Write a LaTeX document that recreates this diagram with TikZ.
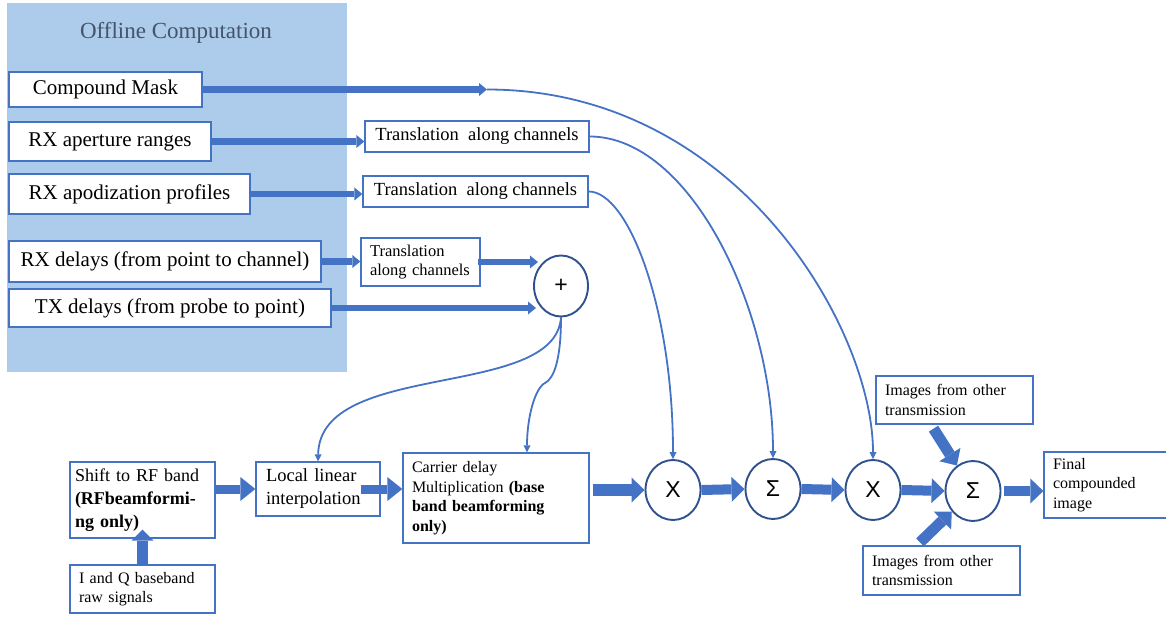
\documentclass[tikz,border=0pt]{standalone}
\usepackage{fontspec}
\setmainfont{Liberation Serif}
\newfontfamily\opfont{Liberation Sans}
\usetikzlibrary{arrows.meta,shapes.geometric}
\definecolor{panel}{HTML}{ADCBEA}
\definecolor{accent}{HTML}{4472C4}
\definecolor{ring}{HTML}{2F528F}
\definecolor{heading}{HTML}{44546A}
\begin{document}
\begin{tikzpicture}[x=1pt,y=-1pt,
  box/.style={draw=accent,line width=1.3pt,fill=white,inner sep=0pt,text=black},
  big/.style={font=\fontsize{21}{25}\selectfont},
  trans/.style={font=\fontsize{18.5}{22}\selectfont},
  mid/.style={font=\fontsize{18.5}{23}\selectfont},
  small/.style={font=\fontsize{16}{19.5}\selectfont},
  op/.style={ellipse,draw=ring,line width=1.9pt,fill=white,minimum width=55pt,
    minimum height=60pt,inner sep=0pt,font=\opfont\fontsize{23}{23}\selectfont},
  flow/.style={draw=accent,line width=1.8pt,-{Triangle[length=7pt,width=7pt,line width=0pt]}},
  feed/.style={draw=accent,line width=6.5pt,-{Triangle[length=8pt,width=13pt,line width=0pt]}},
  pipe/.style={draw=accent,line width=11pt,-{Triangle[length=13pt,width=25pt,line width=0pt]}},
]
\useasboundingbox (0,0) rectangle (1166,617);

% offline computation panel
\fill[panel] (7,3) rectangle (347,372);
\node[text=heading,font=\fontsize{23}{27}\selectfont] (title) at (176,33) {Offline Computation};

% precomputed inputs
\node[box,big,minimum width=193pt,minimum height=35pt] (mask) at (105.5,89.5) {Compound Mask};
\node[box,big,minimum width=202pt,minimum height=39pt] (aper) at (110,141.5) {RX aperture ranges};
\node[box,big,minimum width=241pt,minimum height=40pt] (apod) at (129.5,194) {RX apodization profiles};
\node[box,big,minimum width=312pt,minimum height=41pt] (rxd) at (165,261.5) {RX delays (from point to channel)};
\node[box,big,minimum width=322pt,minimum height=38pt] (txd) at (170,308) {TX delays (from probe to point)};

% channel translations
\node[box,trans,minimum width=224pt,minimum height=31pt] (tr1) at (477,136.5) {Translation\ \ along channels};
\node[box,trans,minimum width=225pt,minimum height=31pt] (tr2) at (475.5,191.5) {Translation\ \ along channels};
\node[box,font=\fontsize{16.5}{19.5}\selectfont,minimum width=119pt,minimum height=48pt,
  text width=101pt,align=left] (tr3) at (420.5,262) {Translation\\along channels};

% delay sum
\node[op,minimum width=54pt,minimum height=61pt,font=\opfont\fontsize{23}{23}\selectfont] (plus) at (561,286) {+};

% beamforming chain
\node[box,font=\fontsize{18}{23}\selectfont,minimum width=145pt,minimum height=76pt,text width=135pt,align=left] (shift) at (142.5,500)
  {Shift to RF band\\\textbf{(RFbeamformi-}\\\textbf{ng only)}};
\node[box,small,minimum width=145pt,minimum height=48pt,text width=127pt,align=left] (iq) at (142.5,589)
  {I and Q baseband\\raw signals};
\node[box,mid,minimum width=124pt,minimum height=54pt,text width=104pt,align=left] (interp) at (318,489)
  {Local linear\\interpolation};
\node[box,small,minimum width=186pt,minimum height=90pt,text width=168pt,align=left] (carrier) at (496,498)
  {Carrier delay\\Multiplication \textbf{(base}\\\textbf{band beamforming}\\\textbf{only)}};
\node[op] (mulA) at (673,490) {X};
\node[op] (sumA) at (773,489) {Σ};
\node[op] (mulB) at (873,490) {X};
\node[op] (sumB) at (973,491) {Σ};
\node[box,small,minimum width=124pt,minimum height=66pt,text width=106pt,align=left] (final) at (1106,485)
  {Final\\compounded\\image};
\node[box,small,minimum width=157pt,minimum height=48pt,text width=139pt,align=left] (othA) at (954.5,400)
  {Images from other\\transmission};
\node[box,small,minimum width=157pt,minimum height=49pt,text width=139pt,align=left] (othB) at (941.5,570.5)
  {Images from other\\transmission};

% free ends
\coordinate (maskend) at (487,89.5);
\coordinate (plusinA) at (538,262);
\coordinate (plusinB) at (536,308);

% block arrows of the offline part
\draw[feed] (mask.east) -- (maskend);
\draw[feed] (aper.east) -- (tr1.west |- aper.east);
\draw[feed] (apod.east) -- (tr2.west |- apod.east);
\draw[feed] (rxd.east) -- (tr3.west |- rxd.east);
\draw[feed,shorten <=-3pt] (tr3.east) -- (plusinA);
\draw[feed] (txd.east) -- (plusinB);

% block arrows of the chain
\draw[pipe,-{Triangle[length=11pt,width=22pt,line width=0pt]},shorten >=-9pt] (iq.north) -- (shift.south);
\draw[pipe,line width=9pt,-{Triangle[length=15pt,width=24pt,line width=0pt]}] (shift.east |- interp.west) -- (interp.west);
\draw[pipe,line width=9pt,-{Triangle[length=15pt,width=24pt,line width=0pt]},shorten <=-20pt] (interp.east) -- (carrier.west |- interp.east);
\draw[pipe,line width=12pt,shorten <=3pt] (carrier.east |- mulA.west) -- (mulA.west);
\draw[pipe,line width=10pt] (mulA.east) -- (sumA.west);
\draw[pipe,line width=10pt] (sumA.east) -- (mulB.west);
\draw[pipe,line width=10pt] (mulB.east) -- (sumB.west);
\draw[pipe,line width=10pt,shorten <=3pt] (sumB.east) -- (final.west |- sumB.east);
\draw[pipe] (othA.south) ++(-21,4) -- (sumB);
\draw[pipe] (othB.north) ++(-21.5,-3) -- (sumB);

% thin data paths
\draw[flow] (maskend) .. controls +(250,0) and +(0,-130) .. (mulB.north);
\draw[flow] (tr1.east) .. controls +(100,0) and +(0,-150) .. (sumA.north);
\draw[flow] (tr2.east) .. controls +(40,0) and +(0,-150) .. (mulA.north);
\draw[flow] (plus.south) .. controls +(-6,83) and +(2,-102) .. (interp.north);
\draw[flow] (plus.south) .. controls +(0,45) and +(8,-4) .. (545,383)
  .. controls +(-10,5) and +(0,-35) .. ([xshift=31pt]carrier.north);
\end{tikzpicture}
\end{document}
